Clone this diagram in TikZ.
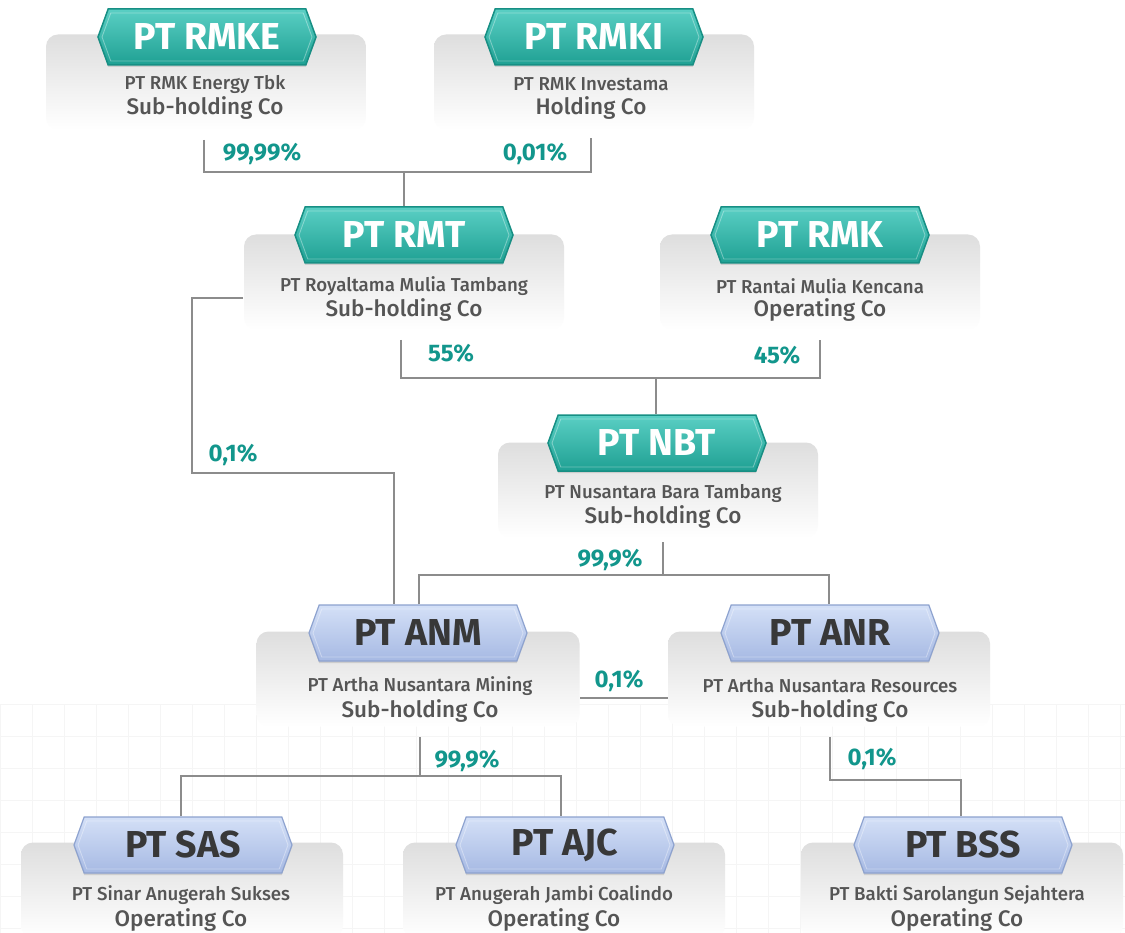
\documentclass[tikz,border=0pt]{standalone}
\usepackage{fontspec}
\setmainfont{Fira Sans}
\newfontfamily\fmed{Fira Sans Medium}
\usetikzlibrary{shapes.symbols,shadows}
\definecolor{tealA}{HTML}{5ACFC4}
\definecolor{tealB}{HTML}{1FA093}
\definecolor{tealC}{HTML}{178F84}
\definecolor{pctc}{HTML}{12968C}
\definecolor{blueA}{HTML}{D4E0F7}
\definecolor{blueB}{HTML}{A6B9E3}
\definecolor{blueC}{HTML}{8DA2CF}
\definecolor{txtc}{HTML}{555555}
\definecolor{hdrtxt}{HTML}{383838}
\definecolor{linec}{HTML}{8C8C8C}
\tikzset{
  card/.style={rounded corners=12pt, top color=black!13, bottom color=white, minimum width=320pt, minimum height=95pt, inner sep=0pt},
  hdr/.style={signal, signal to=west and east, signal pointer angle=140, minimum width=218pt, minimum height=56pt, inner sep=0pt,
    font=\bfseries\fontsize{37.5}{37.5}\selectfont, drop shadow={opacity=0.25, shadow xshift=0pt, shadow yshift=-2pt},
    append after command={node[signal, signal to=west and east, signal pointer angle=140, minimum width=210pt, minimum height=48pt,
      inner sep=0pt, draw=white, draw opacity=0.35, line width=0.9pt] at (\tikzlastnode.center) {}}},
  tealh/.style={hdr, top color=tealA, bottom color=tealB, draw=tealC, line width=1.5pt, text=white},
  blueh/.style={hdr, top color=blueA, bottom color=blueB, draw=blueC, line width=1.2pt, text=hdrtxt},
  nm/.style={text=txtc, font=\fmed\fontsize{18.7}{18.7}\selectfont},
  ty/.style={text=txtc, font=\fmed\fontsize{22.5}{22.5}\selectfont},
  pc/.style={text=pctc, font=\bfseries\fontsize{24}{24}\selectfont},
  ln/.style={draw=linec, line width=1.6pt}
}
\begin{document}
\begin{tikzpicture}[x=1pt,y=-1pt]
\useasboundingbox (0,0) rectangle (1125,933);
\fill[white] (0,0) rectangle (1125,933);
\draw[black!4, line width=0.8pt, step=32pt] (0,704) grid (1125,933);
% cards
\node[card] (rmkec) at (206,82) {};
\node[card] (rmkic) at (594,82) {};
\node[card] (rmtc) at (404,282) {};
\node[card] (rmkc) at (820,282) {};
\node[card] (nbtc) at (658,490) {};
\node[card, minimum width=323pt] (anmc) at (418,679) {};
\node[card, minimum width=322pt] (anrc) at (829,679) {};
\node[card, minimum width=322pt] (sasc) at (182,890) {};
\node[card, minimum width=322pt] (ajcc) at (564,890) {};
\node[card, minimum width=322pt] (bssc) at (962,890) {};
% connectors
\coordinate (a1) at (204,140); \coordinate (a2) at (204,172);
\coordinate (a3) at (591,138); \coordinate (a4) at (591,172);
\coordinate (a5) at (404,172);
\coordinate (b1) at (401,340); \coordinate (b2) at (401,378);
\coordinate (b3) at (820,340); \coordinate (b4) at (820,378);
\coordinate (b5) at (656,378);
\coordinate (c1) at (243,298); \coordinate (c2) at (192,298);
\coordinate (c3) at (192,473); \coordinate (c4) at (394,473);
\coordinate (d1) at (663,542); \coordinate (d2) at (663,575);
\coordinate (d3) at (419,575); \coordinate (d4) at (829,575);
\coordinate (e1) at (580,698); \coordinate (e2) at (668,698);
\coordinate (f1) at (420,737); \coordinate (f2) at (420,776);
\coordinate (f3) at (181,776); \coordinate (f4) at (561,776);
\coordinate (g1) at (830,737); \coordinate (g2) at (830,780);
\coordinate (g3) at (961,780);
% headers
\node[tealh] (rmke) at (207,37) {PT RMKE};
\node[tealh] (rmki) at (594,37) {PT RMKI};
\node[tealh] (rmt) at (404,235) {PT RMT};
\node[tealh] (rmk) at (820,235) {PT RMK};
\node[tealh] (nbt) at (657,443) {PT NBT};
\node[blueh] (anm) at (418,633) {PT ANM};
\node[blueh] (anr) at (830,633) {PT ANR};
\node[blueh] (sas) at (183,845) {PT SAS};
\node[blueh] (ajc) at (565,845) {PT AJC};
\node[blueh] (bss) at (963,845) {PT BSS};
\draw[ln] (a1) -- (a2) -- (a4) -- (a3);
\draw[ln] (a5) -- (rmt.north);
\draw[ln] (b1) -- (b2) -- (b4) -- (b3);
\draw[ln] (b5) -- (b5 |- nbt.north);
\draw[ln] (c1) -- (c2) -- (c3) -- (c4) -- (c4 |- anm.north);
\draw[ln] (d1) -- (d2);
\draw[ln] (d3 |- anm.north) -- (d3) -- (d4) -- (d4 |- anr.north);
\draw[ln] (e1) -- (e2);
\draw[ln] (f1) -- (f2);
\draw[ln] (f3 |- sas.north) -- (f3) -- (f4) -- (f4 |- ajc.north);
\draw[ln] (g1) -- (g2) -- (g3) -- (g3 |- bss.north);
% texts
\node[nm] (rmken) at (205,84) {PT RMK Energy Tbk};
\node[ty] (rmket) at (205,108) {Sub-holding Co};
\node[nm] (rmkin) at (591,84) {PT RMK Investama};
\node[ty] (rmkit) at (591,108) {Holding Co};
\node[nm] (rmtn) at (404,286) {PT Royaltama Mulia Tambang};
\node[ty] (rmtt) at (404,310) {Sub-holding Co};
\node[nm] (rmkn) at (820,286) {PT Rantai Mulia Kencana};
\node[ty] (rmkt) at (820,310) {Operating Co};
\node[nm] (nbtn) at (663,493) {PT Nusantara Bara Tambang};
\node[ty] (nbtt) at (663,517) {Sub-holding Co};
\node[nm] (anmn) at (420,686) {PT Artha Nusantara Mining};
\node[ty] (anmt) at (420,711) {Sub-holding Co};
\node[nm] (anrn) at (830,686) {PT Artha Nusantara Resources};
\node[ty] (anrt) at (830,711) {Sub-holding Co};
\node[nm] (sasn) at (181,895) {PT Sinar Anugerah Sukses};
\node[ty] (sast) at (181,920) {Operating Co};
\node[nm] (ajcn) at (554,895) {PT Anugerah Jambi Coalindo};
\node[ty] (ajct) at (554,920) {Operating Co};
\node[nm] (bssn) at (957,895) {PT Bakti Sarolangun Sejahtera};
\node[ty] (bsst) at (957,920) {Operating Co};
% percentages
\node[pc] (p1) at (262,154) {99,99\%};
\node[pc] (p2) at (535,154) {0,01\%};
\node[pc] (p3) at (451,353) {55\%};
\node[pc] (p4) at (777,355) {45\%};
\node[pc] (p5) at (233,455) {0,1\%};
\node[pc] (p6) at (610,560) {99,9\%};
\node[pc] (p7) at (619,681) {0,1\%};
\node[pc] (p8) at (467,761) {99,9\%};
\node[pc] (p9) at (872,759) {0,1\%};
\end{tikzpicture}
\end{document}
